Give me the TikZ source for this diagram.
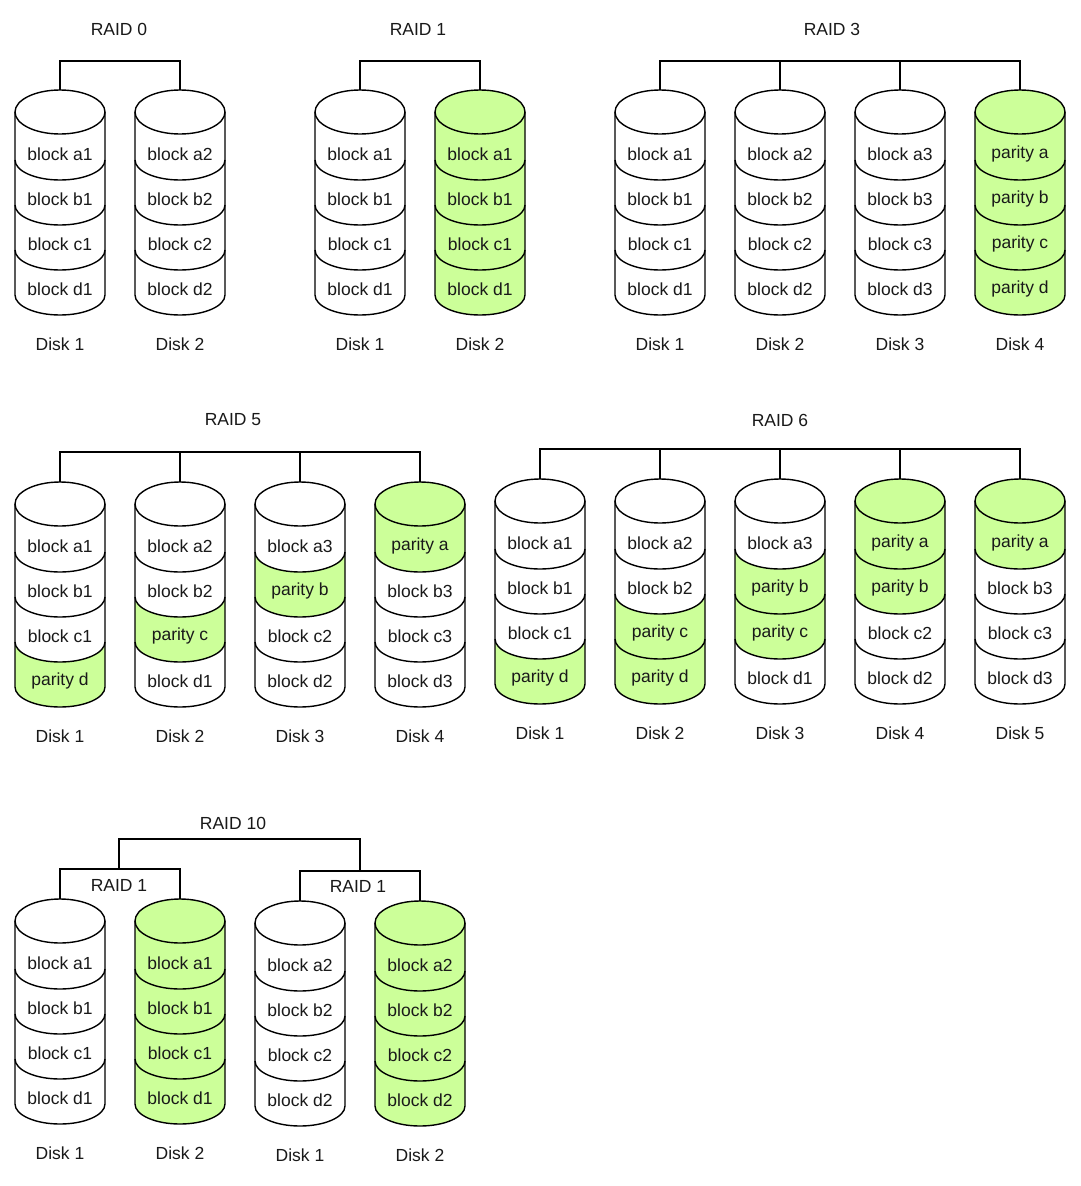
\documentclass[tikz,border=0pt]{standalone}
\usepackage{fontspec}
\setmainfont{Liberation Sans}
\usepackage{tikz}
\usetikzlibrary{positioning}
\definecolor{green}{RGB}{204, 255, 153}
\tikzstyle{wht} = [fill=white]
\tikzstyle{grn} = [fill=green]
\tikzstyle{dsk} = [draw=black, line width=1.4pt]
\tikzstyle{wire} = [draw=black, line width=1.4pt]
\tikzstyle{blk} = [inner sep=0pt, text=black!90, font=\fontsize{17.5}{20}\selectfont]
\tikzstyle{ttl} = [inner sep=0pt, text=black!90, font=\fontsize{17.5}{20}\selectfont]

% disk: name, x, top, {style/text, ...}, label
\newcommand{\disk}[5]{%
  \foreach \sfill/\stext [count=\i] in {#4} {
    \pgfmathsetmacro{\ya}{ifthenelse(\i==1, #3+22, #3-20+45*\i)}
    \pgfmathsetmacro{\yb}{#3+25+45*\i}
    \ifnum\i=1 \path[\sfill] (#2,#3+22) ellipse[x radius=45pt, y radius=22pt]; \fi
    \path[\sfill] (#2-45,\ya) -- (#2-45,\yb) arc[start angle=180, end angle=360, x radius=45pt, y radius=20pt]
      -- (#2+45,\ya) arc[start angle=0, end angle=-180, x radius=45pt, y radius=20pt] -- cycle;
    \node[blk] (#1-\i) at (#2,\yb-6) {\stext};
  }
  \draw[dsk] (#2,#3+22) ellipse[x radius=45pt, y radius=22pt];
  \draw[dsk] (#2-45,#3+22) -- (#2-45,#3+205) arc[start angle=180, end angle=360, x radius=45pt, y radius=20pt] -- (#2+45,#3+22);
  \foreach \j in {70,115,160}
    \draw[dsk] (#2-45,#3+\j) arc[start angle=180, end angle=360, x radius=45pt, y radius=20pt];
  \coordinate (#1) at (#2,#3);
  \node[blk] (#1-lbl) at (#2,#3+254) {#5};
}

\begin{document}
\begin{tikzpicture}[x=1pt, y=-1pt]

\useasboundingbox[fill=white] (0,0) rectangle (1080,1186);

% RAID 0 =============================
\node[ttl] (r0) at (119,29) {RAID 0};
\disk{r0d1}{60}{90}{wht/block a1, wht/block b1, wht/block c1, wht/block d1}{Disk 1}
\disk{r0d2}{180}{90}{wht/block a2, wht/block b2, wht/block c2, wht/block d2}{Disk 2}
\coordinate (r0bar) at (120,61);

% RAID 1
\node[ttl] (r1) at (418,29) {RAID 1};
\disk{r1d1}{360}{90}{wht/block a1, wht/block b1, wht/block c1, wht/block d1}{Disk 1}
\disk{r1d2}{480}{90}{grn/block a1, grn/block b1, grn/block c1, grn/block d1}{Disk 2}
\coordinate (r1bar) at (420,61);

% RAID 3
\node[ttl] (r3) at (832,29) {RAID 3};
\disk{r3d1}{660}{90}{wht/block a1, wht/block b1, wht/block c1, wht/block d1}{Disk 1}
\disk{r3d2}{780}{90}{wht/block a2, wht/block b2, wht/block c2, wht/block d2}{Disk 2}
\disk{r3d3}{900}{90}{wht/block a3, wht/block b3, wht/block c3, wht/block d3}{Disk 3}
\disk{r3d4}{1020}{90}{grn/parity a, grn/parity b, grn/parity c, grn/parity d}{Disk 4}
\coordinate (r3bar) at (840,61);

% RAID 5
\node[ttl] (r5) at (233,420) {RAID 5};
\disk{r5d1}{60}{482}{wht/block a1, wht/block b1, wht/block c1, grn/parity d}{Disk 1}
\disk{r5d2}{180}{482}{wht/block a2, wht/block b2, grn/parity c, wht/block d1}{Disk 2}
\disk{r5d3}{300}{482}{wht/block a3, grn/parity b, wht/block c2, wht/block d2}{Disk 3}
\disk{r5d4}{420}{482}{grn/parity a, wht/block b3, wht/block c3, wht/block d3}{Disk 4}
\coordinate (r5bar) at (240,452);

% RAID 6
\node[ttl] (r6) at (780,420) {RAID 6};
\disk{r6d1}{540}{479}{wht/block a1, wht/block b1, wht/block c1, grn/parity d}{Disk 1}
\disk{r6d2}{660}{479}{wht/block a2, wht/block b2, grn/parity c, grn/parity d}{Disk 2}
\disk{r6d3}{780}{479}{wht/block a3, grn/parity b, grn/parity c, wht/block d1}{Disk 3}
\disk{r6d4}{900}{479}{grn/parity a, grn/parity b, wht/block c2, wht/block d2}{Disk 4}
\disk{r6d5}{1020}{479}{grn/parity a, wht/block b3, wht/block c3, wht/block d3}{Disk 5}
\coordinate (r6bar) at (780,449);

% RAID 10
\node[ttl] (r10) at (233,823) {RAID 10};
\node[ttl] (r10l) at (119,885) {RAID 1};
\node[ttl] (r10r) at (358,886) {RAID 1};
\disk{r10d1}{60}{899}{wht/block a1, wht/block b1, wht/block c1, wht/block d1}{Disk 1}
\disk{r10d2}{180}{899}{grn/block a1, grn/block b1, grn/block c1, grn/block d1}{Disk 2}
\disk{r10d3}{300}{901}{wht/block a2, wht/block b2, wht/block c2, wht/block d2}{Disk 1}
\disk{r10d4}{420}{901}{grn/block a2, grn/block b2, grn/block c2, grn/block d2}{Disk 2}
\coordinate (r10bar) at (240,839);
\coordinate (r10lbar) at (119,869);
\coordinate (r10rbar) at (360,871);

% edges
\path[wire] (r0d1) |- (r0bar) -| (r0d2);
\path[wire] (r1d1) |- (r1bar) -| (r1d2);
\path[wire] (r3d1) |- (r3bar) -| (r3d4);
\path[wire] (r3d2) -- (r3d2 |- r3bar);
\path[wire] (r3d3) -- (r3d3 |- r3bar);

\path[wire] (r5d1) |- (r5bar) -| (r5d4);
\path[wire] (r5d2) -- (r5d2 |- r5bar);
\path[wire] (r5d3) -- (r5d3 |- r5bar);
\path[wire] (r6d1) |- (r6bar) -| (r6d5);
\path[wire] (r6d2) -- (r6d2 |- r6bar);
\path[wire] (r6d3) -- (r6d3 |- r6bar);
\path[wire] (r6d4) -- (r6d4 |- r6bar);

\path[wire] (r10lbar) |- (r10bar) -| (r10rbar);
\path[wire] (r10d1) |- (r10lbar) -| (r10d2);
\path[wire] (r10d3) |- (r10rbar) -| (r10d4);

\end{tikzpicture}
\end{document}
